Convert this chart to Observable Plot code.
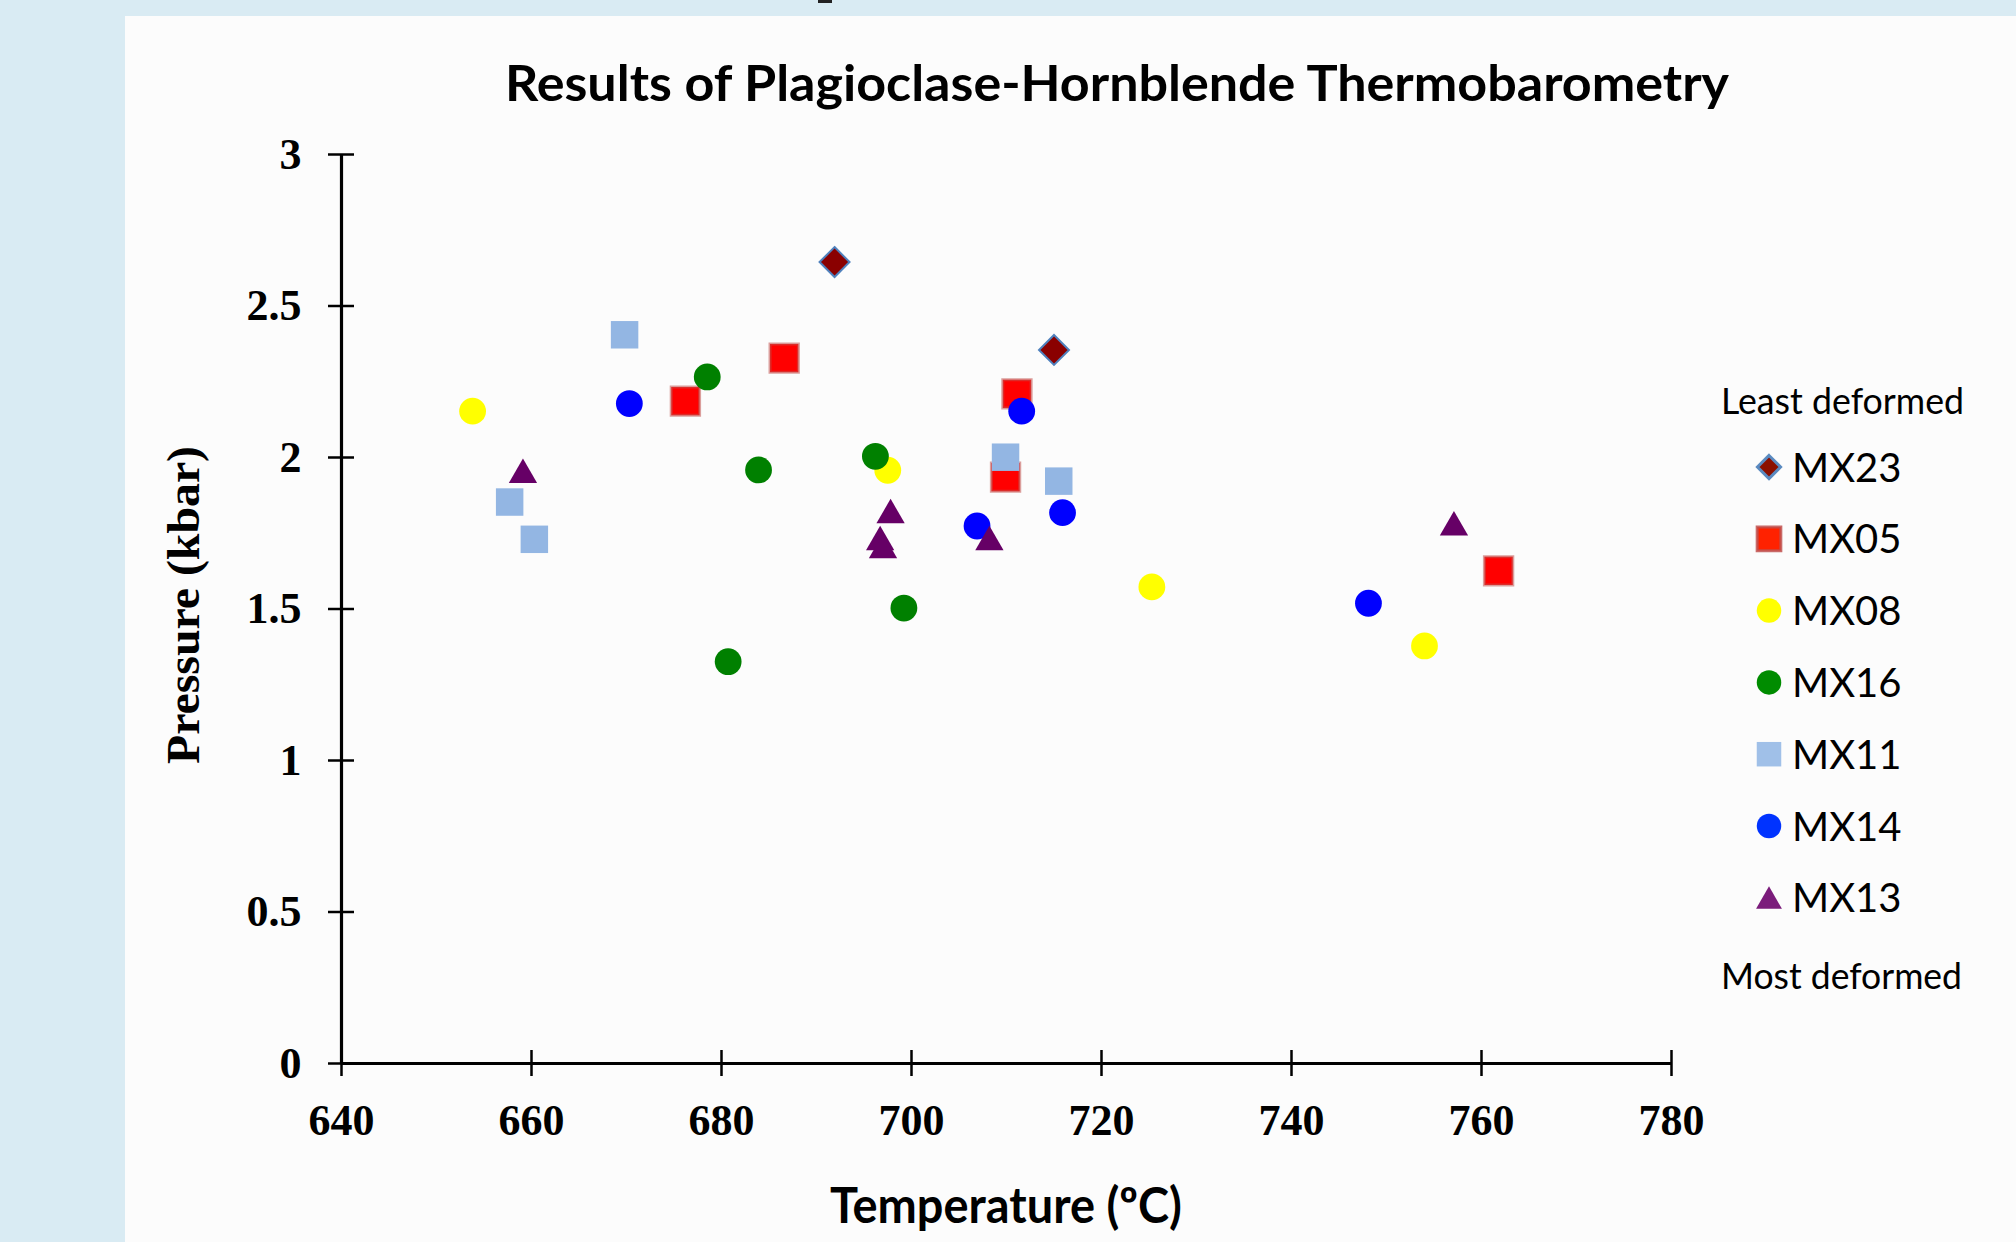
<!DOCTYPE html>
<html><head><meta charset="utf-8">
<script src="https://cdn.jsdelivr.net/npm/d3@7"></script>
<script src="https://cdn.jsdelivr.net/npm/@observablehq/plot@0.6"></script>
<style>
html,body{margin:0;padding:0;background:#d9ebf3;}
#page{position:relative;width:2016px;height:1242px;overflow:hidden;background:#d9ebf3;}
#panel{position:absolute;left:125px;top:16px;right:0;bottom:0;background:#fcfcfc;}
#mark{position:absolute;left:818px;top:0;width:14px;height:3px;background:#222;}
#chart,#overlay{position:absolute;left:0;top:0;}
</style></head><body>
<div id="page"><div id="panel"></div><div id="mark"></div><div id="chart"></div><svg id="overlay" width="2016" height="1242"></svg></div>
<script>
// ---- data ----
const titleText = "Results of Plagioclase-Hornblende Thermobarometry";
const xLabel = "Temperature (ºC)";
const yLabel = "Pressure (kbar)";
const legendTop = "Least deformed";
const legendBottom = "Most deformed";
const seriesNames = ["MX23", "MX05", "MX08", "MX16", "MX11", "MX14", "MX13"];
const xTicks = [640, 660, 680, 700, 720, 740, 760, 780];
const yTicks = [0, 0.5, 1, 1.5, 2, 2.5, 3];

const tempMX23 = [691.9, 715.0];
const presMX23 = [2.645, 2.355];
const tempMX05 = [676.2, 686.6, 711.1, 709.9, 761.8];
const presMX05 = [2.186, 2.328, 2.21, 1.935, 1.626];
const tempMX08 = [653.8, 697.5, 725.3, 754.0];
const presMX08 = [2.153, 1.958, 1.573, 1.378];
const tempMX16 = [678.5, 683.9, 696.2, 699.2, 680.7];
const presMX16 = [2.266, 1.959, 2.004, 1.503, 1.326];
const tempMX11 = [669.8, 657.7, 660.3, 709.9, 715.5];
const presMX11 = [2.405, 1.853, 1.73, 2.001, 1.922];
const tempMX14 = [670.3, 706.9, 711.6, 715.9, 748.1];
const presMX14 = [2.178, 1.774, 2.153, 1.818, 1.519];
const tempMX13 = [659.1, 697.8, 696.7, 697.0, 708.2, 757.1];
const presMX13 = [1.956, 1.823, 1.734, 1.708, 1.734, 1.783];

const temps = [tempMX23, tempMX05, tempMX08, tempMX16, tempMX11, tempMX14, tempMX13];
const pressures = [presMX23, presMX05, presMX08, presMX16, presMX11, presMX14, presMX13];

// ---- styles ----
const dotStyle = {
  MX23: {symbol: d3.symbolDiamond2, r: 13.5, fill: "#8a0000", stroke: "#4f81bd", strokeWidth: 2},
  MX05: {symbol: d3.symbolSquare, r: 16, fill: "#ff0000", stroke: "#c0504d", strokeOpacity: 0.55, strokeWidth: 3},
  MX08: {symbol: d3.symbolCircle, r: 13.4, fill: "#ffff00"},
  MX16: {symbol: d3.symbolCircle, r: 13.4, fill: "#008000"},
  MX11: {symbol: d3.symbolSquare, r: 15.5, fill: "#93b6e3"},
  MX14: {symbol: d3.symbolCircle, r: 13.4, fill: "#0000ff"},
  MX13: {symbol: d3.symbolTriangle, r: 10.5, fill: "#660066", dy: 4}
};
const legendStyle = {
  MX23: {symbol: d3.symbolDiamond2, size: 340, fill: "#8b1000", stroke: "#5a8ac0", strokeWidth: 3},
  MX05: {symbol: d3.symbolSquare, size: 560, fill: "#ff2200", stroke: "#c0504d", strokeWidth: 3, strokeOpacity: 0.85},
  MX08: {symbol: d3.symbolCircle, size: 470, fill: "#ffff00"},
  MX16: {symbol: d3.symbolCircle, size: 470, fill: "#008c00"},
  MX11: {symbol: d3.symbolSquare, size: 600, fill: "#a0c0e8"},
  MX14: {symbol: d3.symbolCircle, size: 470, fill: "#0033ff"},
  MX13: {symbol: d3.symbolTriangle, size: 290, fill: "#7b1c7b"}
};

const rows = [];
seriesNames.forEach((s, i) => temps[i].forEach((t, j) => rows.push({series: s, temperature: t, pressure: pressures[i][j]})));

const tickFont = {fontSize: 44, fontWeight: "bold", fontFamily: "Liberation Serif", fill: "black"};

const marks = [
  Plot.axisX({ticks: xTicks, tickSize: 13, tickPadding: 27, strokeWidth: 2.5, tickFormat: d => String(d), label: null, ...tickFont}),
  Plot.axisX({ticks: xTicks, tickSize: 13, dy: -13, strokeWidth: 2.5, fill: "none", label: null}),
  Plot.axisY({ticks: yTicks, tickSize: 13, tickPadding: 27, strokeWidth: 2.5, tickFormat: d => String(d), label: null, ...tickFont}),
  Plot.axisY({ticks: yTicks, tickSize: 13, dx: 13, strokeWidth: 2.5, fill: "none", label: null}),
  Plot.ruleX([640], {strokeWidth: 3.2, stroke: "black"}),
  Plot.ruleY([0], {strokeWidth: 3.2, stroke: "black"}),
  ...seriesNames.map(s => Plot.dot(rows.filter(d => d.series === s), {x: "temperature", y: "pressure", ...dotStyle[s]}))
];

const chart = Plot.plot({
  width: 2016, height: 1242,
  marginLeft: 341, marginRight: 345, marginTop: 154, marginBottom: 179,
  x: {domain: [640, 780]},
  y: {domain: [0, 3]},
  style: {background: "transparent", overflow: "visible", color: "black"},
  marks
});
document.getElementById("chart").appendChild(chart);

// ---- overlay texts and legend ----
const ov = d3.select("#overlay");
ov.append("text").attr("x", 1117).attr("y", 101).attr("text-anchor", "middle")
  .attr("font-family", "Lato").attr("font-weight", "bold").attr("font-size", 50)
  .attr("textLength", 1224).attr("lengthAdjust", "spacingAndGlyphs").text(titleText);
ov.append("text").attr("x", 1006).attr("y", 1223).attr("text-anchor", "middle")
  .attr("font-family", "Lato").attr("font-weight", "bold").attr("font-size", 49)
  .attr("textLength", 352).attr("lengthAdjust", "spacingAndGlyphs").text(xLabel);
ov.append("text").attr("transform", "translate(199,605) rotate(-90)").attr("text-anchor", "middle")
  .attr("font-family", "Liberation Serif").attr("font-weight", "bold").attr("font-size", 47)
  .attr("textLength", 318).attr("lengthAdjust", "spacingAndGlyphs").text(yLabel);

ov.append("text").attr("x", 1721).attr("y", 414).attr("font-family", "Lato").attr("font-size", 37)
  .attr("textLength", 243).attr("lengthAdjust", "spacingAndGlyphs").text(legendTop);
ov.append("text").attr("x", 1721).attr("y", 989).attr("font-family", "Lato").attr("font-size", 37)
  .attr("textLength", 241).attr("lengthAdjust", "spacingAndGlyphs").text(legendBottom);

seriesNames.forEach((s, i) => {
  const yc = 467 + i * 71.8;
  const st = legendStyle[s];
  const dyTri = st.symbol === d3.symbolTriangle ? 3.5 : 0;
  ov.append("path").attr("transform", `translate(1769,${yc + dyTri})`)
    .attr("d", d3.symbol(st.symbol, st.size)())
    .attr("fill", st.fill).attr("stroke", st.stroke || "none")
    .attr("stroke-width", st.strokeWidth || 0).attr("stroke-opacity", st.strokeOpacity || 1);
  ov.append("text").attr("x", 1792).attr("y", yc + 14.5).attr("font-family", "Lato").attr("font-size", 40).text(s);
});
</script>
</body></html>
